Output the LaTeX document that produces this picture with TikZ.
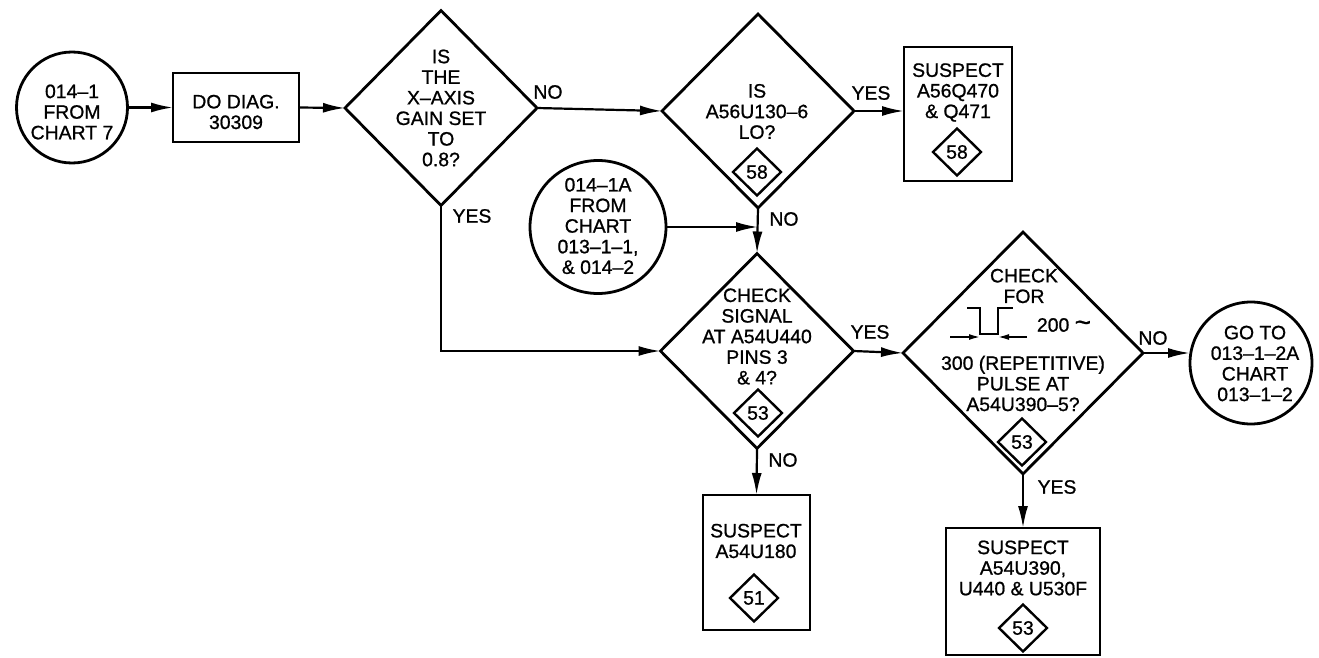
\documentclass[tikz,border=0pt]{standalone}
\usepackage{fontspec}
\setmainfont{Liberation Sans}[BoldFont={Liberation Sans},BoldFeatures={FakeBold=0.9}]
\usetikzlibrary{shapes.geometric,arrows.meta}
\begin{document}
\begin{tikzpicture}[x=1pt,y=-1pt,
  every node/.style={font=\fontsize{19.4}{20.6}\selectfont\bfseries, inner sep=0pt, outer sep=0pt},
  txt/.style={align=center},
  dia/.style={draw, line width=2.8pt, diamond, aspect=1, inner sep=0pt},
  mini/.style={draw, line width=2.4pt, diamond, minimum width=48pt, minimum height=47pt, inner sep=0pt},
  boxx/.style={draw, line width=2.8pt, rectangle},
  term/.style={draw, line width=2.8pt, ellipse},
  arr/.style={line width=2.2pt, -{Latex[length=22pt,width=10pt]}},
  smallarr/.style={line width=1.6pt, -{Latex[length=11pt,width=6pt]}},
  pulse/.style={line width=2.2pt}
]
\useasboundingbox (0,0) rectangle (1319,658);

% terminals
\node[term, minimum width=111pt, minimum height=111pt] (cA) at (72,107.5) {};
\node[txt] (cAt) at (72,112) {014--1\\FROM\\CHART 7};
\node[term, minimum width=136pt, minimum height=133pt] (cB) at (598,227) {};
\node[txt] (cBt) at (598,226) {014--1A\\FROM\\CHART\\013--1--1,\\\& 014--2};
\node[term, minimum width=122pt, minimum height=122pt] (cC) at (1251,363) {};
\node[txt] (cCt) at (1255,363.5) {GO TO\\013--1--2A\\CHART\\013--1--2};

% boxes
\node[boxx, minimum width=126pt, minimum height=69pt] (b1) at (236,107.5) {};
\node[txt] (b1t) at (236,112) {DO DIAG.\\30309};
\node[boxx, minimum width=108pt, minimum height=134pt] (b2) at (958,114) {};
\node[txt] (b2t) at (958,92.5) {SUSPECT\\A56Q470\\\& Q471};
\node[mini] (mb2) at (957,152) {58};
\node[boxx, minimum width=107pt, minimum height=135pt] (b3) at (756.5,562.5) {};
\node[txt] (b3t) at (756,541) {SUSPECT\\A54U180};
\node[mini] (mb3) at (754,598) {51};
\node[boxx, minimum width=154pt, minimum height=127pt] (b4) at (1023,591.5) {};
\node[txt] (b4t) at (1023,568) {SUSPECT\\A54U390,\\U440 \& U530F};
\node[mini] (mb4) at (1023,628) {53};

% decisions
\node[dia, minimum width=192pt, minimum height=195pt] (d1) at (441,108) {};
\node[txt] (d1t) at (441,108) {IS\\THE\\X--AXIS\\GAIN SET\\TO\\0.8?};
\node[dia, minimum width=192pt, minimum height=194pt] (d2) at (758,111) {};
\node[txt] (d2t) at (757,111.5) {IS\\A56U130--6\\LO?};
\node[mini] (m2) at (757,172) {58};
\node[dia, minimum width=193pt, minimum height=195pt] (d3) at (757,351) {};
\node[txt] (d3t) at (757,336.5) {CHECK\\SIGNAL\\AT A54U440\\PINS 3\\\& 4?};
\node[mini] (m3) at (758,413) {53};
\node[dia, minimum width=240pt, minimum height=242pt] (d4) at (1023,353) {};
\node[txt] (d4a) at (1024,286) {CHECK\\FOR};
\node (d4b) at (1064,325) {200 {\fontsize{28}{28}\selectfont\textasciitilde}};
\node[txt] (d4c) at (1023,383.5) {300 (REPETITIVE)\\PULSE AT\\A54U390--5?};
\node[mini] (m4) at (1022,442) {53};

% pulse symbol
\coordinate (p1) at (967,308);
\coordinate (p2) at (980,308);
\coordinate (p3) at (980,334);
\coordinate (p4) at (998,334);
\coordinate (p5) at (998,308);
\coordinate (p6) at (1013,308);
\draw[pulse] (p1) -- (p2) -- (p3) -- (p4) -- (p5) -- (p6);
\coordinate (qa) at (950,337);
\coordinate (qb) at (980,337);
\coordinate (qc) at (1027,337);
\coordinate (qd) at (998,337);
\draw[smallarr] (qa) -- (qb);
\draw[smallarr] (qc) -- (qd);

% connectors
\draw[arr] (cA.east) -- (b1.west);
\draw[arr] (b1.east) -- (d1.west);
\draw[arr] (d1.east) -- (d2.west);
\draw[arr] (d2.east) -- (b2.west |- d2.east);
\coordinate (j) at (d2.south |- cB.east);
\draw[arr] (d2.south) -- (d3.north);
\draw[arr] (cB.east) -- (j);
\draw[arr] (d1.south) |- (d3.west);
\draw[arr] (d3.east) -- (d4.west);
\draw[arr] (d4.east) -- (cC.west |- d4.east);
\draw[arr] (d3.south) -- (b3.north);
\draw[arr] (d4.south) -- (b4.north);

% labels
\node (l1) at (548,92) {NO};
\node (l2) at (472,216) {YES};
\node (l3) at (871,93) {YES};
\node (l4) at (784,219) {NO};
\node (l5) at (870,332) {YES};
\node (l6) at (1153,338) {NO};
\node (l7) at (783,460) {NO};
\node (l8) at (1057,487) {YES};
\end{tikzpicture}
\end{document}
